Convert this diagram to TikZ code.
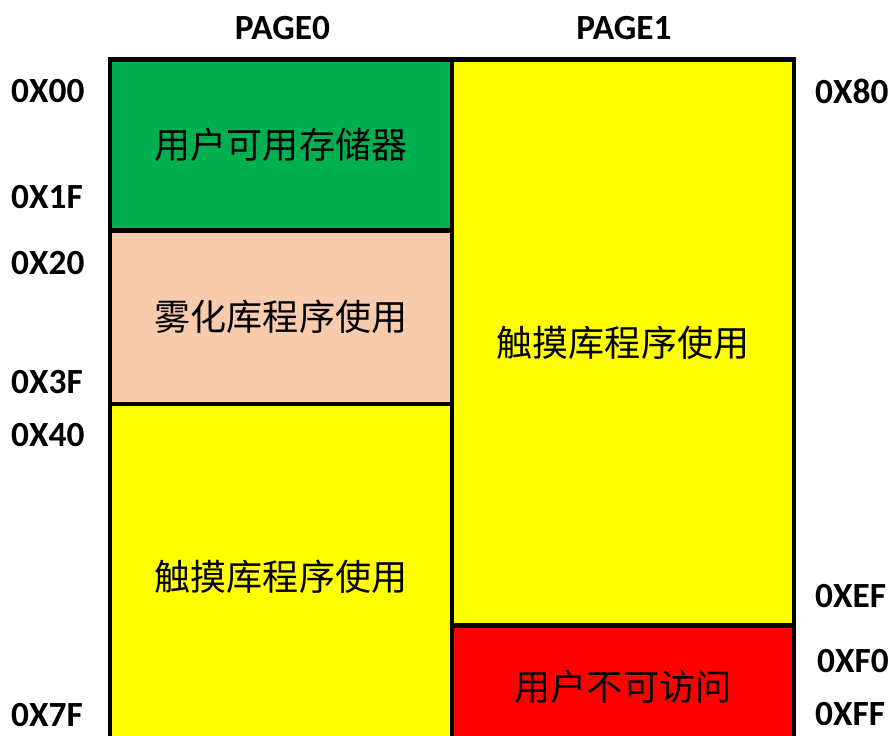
\documentclass[tikz,border=0pt]{standalone}
\usepackage{fontspec}
\setmainfont{Carlito}
\newfontfamily\cjk{Noto Sans CJK SC}
\definecolor{cgreen}{HTML}{00B050}
\definecolor{cpeach}{HTML}{F8CBAD}
\definecolor{cyellow}{HTML}{FFFF00}
\definecolor{cred}{HTML}{FF0000}
\tikzset{
  cell/.style={draw=black, line width=4.5bp, rectangle, inner sep=0pt,
    minimum width=342bp, font=\cjk\fontsize{36.2}{40}\selectfont},
  addr/.style={inner sep=0pt, font=\bfseries\fontsize{35.5}{38}\selectfont},
}
\begin{document}
\begin{tikzpicture}[x=1bp,y=-1bp]
\useasboundingbox (0,0) rectangle (891,736);
\clip (0,0) rectangle (891,736);
\fill[white] (0,0) rectangle (891,736);
% left column (PAGE0)
\node[cell, fill=cgreen, minimum height=171bp] (user) at (281,145) {用户可用存储器};
\node[cell, fill=cpeach, minimum height=173.5bp] (fog) at (281,317.25) {雾化库程序使用};
\node[cell, fill=cyellow, minimum height=345bp] (touch0) at (281,576.5) {触摸库程序使用};
% right column (PAGE1)
\node[cell, fill=cyellow, minimum height=566bp] (touch1) at (623,342.5) {触摸库程序使用};
\node[cell, fill=cred, minimum height=123.5bp] (noacc) at (623,687.25) {用户不可访问};
% headers
\node[addr] (p0) at (282.5,28) {PAGE0};
\node[addr] (p1) at (624,28) {PAGE1};
% left addresses
\node[addr, anchor=west] (a00) at (11,91) {0X00};
\node[addr, anchor=west] (a1f) at (11,197.5) {0X1F};
\node[addr, anchor=west] (a20) at (11,263) {0X20};
\node[addr, anchor=west] (a3f) at (11,382.5) {0X3F};
\node[addr, anchor=west] (a40) at (11,435.5) {0X40};
\node[addr, anchor=west] (a7f) at (11,715) {0X7F};
% right addresses
\node[addr, anchor=west] (a80) at (815,91) {0X80};
\node[addr, anchor=west] (aef) at (815,596) {0XEF};
\node[addr, anchor=west] (af0) at (817,661) {0XF0};
\node[addr, anchor=west] (aff) at (815,714.5) {0XFF};
\end{tikzpicture}
\end{document}
